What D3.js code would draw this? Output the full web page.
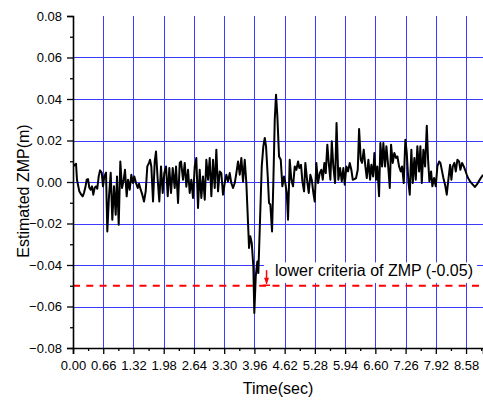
<!DOCTYPE html>
<html>
<head>
<meta charset="utf-8">
<script src="https://cdn.jsdelivr.net/npm/d3@7"></script>
<style>
    body { margin: 0; background: #fff; }
    svg { display: block; font-family: "Liberation Sans", Arial, sans-serif; }
</style>
</head>
<body>
<div id="chart"></div>
<script>
// time (sec) and estimated ZMP (m)
var tempo = [
    0.000, 0.066, 0.087, 0.138, 0.181, 0.212, 0.240, 0.269, 0.299, 0.328,
    0.356, 0.386, 0.415, 0.443, 0.474, 0.502, 0.530, 0.561, 0.590, 0.627,
    0.655, 0.683, 0.721, 0.749, 0.786, 0.823, 0.858, 0.895, 0.932, 0.961,
    0.998, 1.033, 1.070, 1.107, 1.135, 1.172, 1.201, 1.238, 1.273, 1.310,
    1.338, 1.376, 1.413, 1.441, 1.478, 1.513, 1.550, 1.587, 1.622, 1.659,
    1.681, 1.710, 1.747, 1.784, 1.812, 1.849, 1.884, 1.921, 1.958, 1.993,
    2.031, 2.068, 2.103, 2.140, 2.177, 2.220, 2.249, 2.293, 2.330,
    2.358, 2.402, 2.439, 2.474, 2.511, 2.548, 2.583, 2.620, 2.657, 2.692,
    2.729, 2.766, 2.801, 2.838, 2.876, 2.911, 2.948, 2.985, 3.020, 3.057,
    3.094, 3.129, 3.166, 3.203, 3.238, 3.275, 3.312, 3.347, 3.384, 3.421,
    3.456, 3.493, 3.531, 3.566, 3.603, 3.640, 3.675, 3.712, 3.749, 3.784,
    3.821, 3.843, 3.871, 3.902, 3.937, 3.958, 3.989, 4.024, 4.046, 4.083,
    4.120, 4.155, 4.186, 4.214, 4.251, 4.279, 4.308, 4.345, 4.373, 4.404,
    4.432, 4.461, 4.498, 4.535, 4.570, 4.607, 4.635, 4.666, 4.694, 4.731,
    4.766, 4.803, 4.841, 4.876, 4.913, 4.941, 4.978, 5.007, 5.044, 5.072,
    5.109, 5.146, 5.181, 5.212, 5.247, 5.277, 5.312, 5.349, 5.386, 5.421,
    5.452, 5.487, 5.517, 5.552, 5.583, 5.618, 5.649, 5.683, 5.721, 5.753,
    5.793,
    5.830, 5.867, 5.902, 5.932, 5.967, 6.004, 6.041, 6.076, 6.107, 6.142,
    6.179, 6.216, 6.245, 6.282, 6.310, 6.347, 6.382, 6.413, 6.448, 6.485,
    6.513, 6.550, 6.579, 6.616, 6.644, 6.681, 6.710, 6.747, 6.775, 6.812,
    6.841, 6.878, 6.915, 6.943, 6.980, 7.015, 7.052, 7.081, 7.118, 7.155,
    7.183, 7.220, 7.255, 7.286, 7.321, 7.351, 7.386, 7.417, 7.452, 7.483,
    7.517, 7.555, 7.583, 7.614, 7.649, 7.686, 7.723, 7.751, 7.780, 7.817,
    7.845, 7.882, 7.919, 7.954, 7.991, 8.020, 8.057, 8.085, 8.122, 8.159,
    8.194, 8.231, 8.260, 8.290, 8.325, 8.356, 8.391, 8.428, 8.456, 8.493,
    8.530, 8.559, 8.596, 8.624, 8.668, 8.718, 8.771, 8.814, 8.858, 8.901,
    8.952
];

var zmp = [
    0.0075, 0.0088, 0.0011, -0.0045, -0.0061, -0.0069, -0.0052, -0.0027, 0.0011, 0.0014,
    -0.0027, -0.0037, -0.0021, -0.0061, -0.0027, -0.0021, -0.0032, 0.0027, 0.0056, 0.0045,
    -0.0021, 0.0027, 0.0045, -0.0238, -0.0069, 0.0045, -0.0182, -0.0021, -0.0158, 0.0027,
    -0.0206, 0.0099, -0.0029, 0.0011, 0.0059, -0.0069, 0.0011, -0.0037, 0.0035, -0.0005,
    0.0027, -0.0005, -0.0029, -0.0008, -0.0037, -0.0061, -0.0094, -0.0045, 0.0075, 0.0092,
    0.0107, 0.0075, -0.0094, 0.0099, 0.0147, 0.0011, -0.0094, 0.0075, -0.0053, 0.0043,
    0.0075, -0.0069, 0.0067, -0.0053, 0.0067, -0.0029, 0.0075, -0.0101, 0.0092,
    0.0099, 0.0011, 0.0092, -0.0023, 0.0059, -0.0053, 0.0011, -0.0077, 0.0075, 0.0116,
    -0.0125, 0.0059, -0.0077, 0.0027, -0.0085, 0.0107, 0.0011, 0.0116, -0.0069, 0.0107,
    -0.0029, 0.0156, -0.0045, 0.0051, 0.0043, -0.0061, -0.0005, 0.0035, 0.0003, 0.0043,
    -0.0005, -0.0029, -0.0005, 0.0043, 0.0099, 0.0035, 0.0116, 0.0003, 0.0107, -0.0005,
    -0.0198, -0.0318, -0.0262, -0.0294, -0.0407, -0.0631, -0.0455, -0.0383, -0.0439, -0.0182,
    0.0075, 0.0172, 0.0212, 0.0172, 0.0027, -0.0101, -0.0109, -0.0238, -0.0005, 0.0300,
    0.0421, 0.0316, 0.0123, 0.0107, -0.0021, 0.0027, -0.0005, -0.0053, -0.0182, 0.0107,
    0.0011, -0.0021, 0.0075, 0.0059, 0.0099, 0.0067, 0.0083, 0.0003, -0.0045, 0.0092,
    0.0011, -0.0053, 0.0035, 0.0011, -0.0053, -0.0094, 0.0092, -0.0005, 0.0043, 0.0059,
    0.0011, 0.0092, 0.0043, 0.0180, 0.0092, 0.0011, 0.0196, 0.0075, -0.0005, 0.0284,
    0.0011,
    0.0067, 0.0003, 0.0067, -0.0013, 0.0075, 0.0051, 0.0092, 0.0059, 0.0011, 0.0014,
    0.0019, 0.0059, 0.0255, 0.0107, 0.0092, 0.0156, 0.0075, 0.0019, 0.0107, 0.0011,
    0.0083, 0.0027, 0.0140, 0.0011, 0.0075, -0.0069, 0.0188, 0.0075, 0.0188, 0.0075,
    0.0172, 0.0083, -0.0029, 0.0180, 0.0092, 0.0140, 0.0116, 0.0123, 0.0075, 0.0051,
    0.0075, -0.0005, 0.0204, 0.0140, 0.0003, -0.0061, 0.0156, -0.0005, 0.0116, 0.0011,
    0.0172, 0.0051, 0.0172, -0.0005, 0.0156, 0.0075, 0.0271, 0.0107, 0.0003, 0.0051,
    -0.0021, 0.0019, -0.0021, 0.0075, 0.0099, 0.0092, 0.0051, 0.0019, -0.0013, -0.0061,
    0.0011, 0.0083, 0.0011, 0.0075, 0.0092, 0.0051, 0.0107, 0.0099, 0.0059, 0.0092,
    0.0075, 0.0059, 0.0035, 0.0019, 0.0003, -0.0010, -0.0024, -0.0013, 0.0003, 0.0019,
    0.0035
];

// tick values
var xTicks = [0.00, 0.66, 1.32, 1.98, 2.64, 3.30, 3.96, 4.62, 5.28, 5.94, 6.60, 7.26, 7.92, 8.58];
var xMinor = [0.33, 0.99, 1.65, 2.31, 2.97, 3.63, 4.29, 4.95, 5.61, 6.27, 6.93, 7.59, 8.25, 8.91];
var yTicks = [-0.08, -0.06, -0.04, -0.02, 0.00, 0.02, 0.04, 0.06, 0.08];
var yMinor = [-0.07, -0.05, -0.03, -0.01, 0.01, 0.03, 0.05, 0.07];

// criteria line
const limite = -0.05;
const textoLimite = "lower criteria of ZMP (-0.05)";

const width = 483, height = 400;
const margin = { top: 16, left: 73, bottom: 52 };

var svg = d3.select('#chart')
    .append('svg')
    .attr('width', width)
    .attr('height', height);

var x = d3.scaleLinear().domain([0, 8.95]).range([margin.left, width]);
var y = d3.scaleLinear().domain([-0.08, 0.08]).range([height - margin.bottom, margin.top]);

var fmt = d3.format('.2f');

// grid
svg.append('g')
    .selectAll('line')
    .data(xTicks.filter(d => d > 0))
    .join('line')
    .attr('x1', d => Math.round(x(d)) + 0.5)
    .attr('x2', d => Math.round(x(d)) + 0.5)
    .attr('y1', y(0.08))
    .attr('y2', y(-0.08))
    .attr('stroke', '#3b3bff')
    .attr('stroke-width', 1);

svg.append('g')
    .selectAll('line')
    .data(yTicks.filter(d => d > -0.08 && d < 0.08))
    .join('line')
    .attr('x1', x(0))
    .attr('x2', width)
    .attr('y1', d => Math.round(y(d)) + 0.5)
    .attr('y2', d => Math.round(y(d)) + 0.5)
    .attr('stroke', '#3b3bff')
    .attr('stroke-width', 1);

// criteria line (dashed)
svg.append('line')
    .attr('x1', x(0))
    .attr('x2', width)
    .attr('y1', y(limite))
    .attr('y2', y(limite))
    .attr('stroke', '#ff0000')
    .attr('stroke-width', 2)
    .attr('stroke-dasharray', '7,6.3');

// data line
svg.append('clipPath').attr('id', 'clip')
    .append('rect')
    .attr('x', x(0)).attr('y', y(0.08))
    .attr('width', width - x(0)).attr('height', y(-0.08) - y(0.08));

var linha = d3.line()
    .x((d, i) => x(tempo[i]))
    .y(d => y(d));

svg.append('path')
    .datum(zmp)
    .attr('clip-path', 'url(#clip)')
    .attr('fill', 'none')
    .attr('stroke', '#000')
    .attr('stroke-width', 2)
    .attr('stroke-linejoin', 'round')
    .attr('d', linha);

// annotation with white box behind
var anot = svg.append('g');
var caixa = anot.append('rect').attr('fill', '#fff');
var texto = anot.append('text')
    .attr('x', x(4.41))
    .attr('y', y(-0.0455))
    .attr('font-size', 16)
    .attr('fill', '#000')
    .text(textoLimite);
var bb = texto.node().getBBox();
caixa.attr('x', bb.x - 11).attr('y', bb.y)
    .attr('width', bb.width + 15).attr('height', bb.height + 3.5);

// red arrow pointing to the line
var xs = x(4.225);
anot.append('line')
    .attr('x1', xs).attr('x2', xs)
    .attr('y1', y(-0.0425)).attr('y2', y(limite) - 2)
    .attr('stroke', '#ff0000').attr('stroke-width', 1.5);
anot.append('path')
    .attr('d', `M${xs - 2.5},${y(limite) - 8} L${xs + 2.5},${y(limite) - 8} L${xs},${y(limite) - 1.5} Z`)
    .attr('fill', '#ff0000');
anot.append('line')
    .attr('x1', xs - 3.5).attr('x2', xs + 3.5)
    .attr('y1', y(limite) - 0.5).attr('y2', y(limite) - 0.5)
    .attr('stroke', '#ff0000').attr('stroke-width', 1.5);

// axes
var eixoY = svg.append('g')
    .attr('transform', `translate(${x(0)},0)`)
    .call(d3.axisLeft(y).tickValues(yTicks).tickFormat(fmt).tickSize(6).tickPadding(5));
svg.append('g')
    .attr('transform', `translate(${x(0)},0)`)
    .call(d3.axisLeft(y).tickValues(yMinor).tickFormat('').tickSize(3))
    .select('.domain').remove();

var eixoX = svg.append('g')
    .attr('transform', `translate(0,${y(-0.08)})`)
    .call(d3.axisBottom(x).tickValues(xTicks).tickFormat(fmt).tickSize(6).tickPadding(7));
svg.append('g')
    .attr('transform', `translate(0,${y(-0.08)})`)
    .call(d3.axisBottom(x).tickValues(xMinor).tickFormat('').tickSize(3))
    .select('.domain').remove();

svg.selectAll('.domain').attr('stroke-width', 1.6);
svg.selectAll('.tick line').attr('stroke-width', 1.3);

svg.selectAll('.tick text')
    .attr('font-size', 13)
    .attr('font-family', '"Liberation Sans", Arial, sans-serif');

// axis titles
svg.append('text')
    .attr('x', (x(0) + width) / 2)
    .attr('y', 394)
    .attr('text-anchor', 'middle')
    .attr('font-size', 16)
    .text('Time(sec)');

svg.append('text')
    .attr('transform', 'translate(29,191) rotate(-90)')
    .attr('text-anchor', 'middle')
    .attr('font-size', 16)
    .text('Estimated ZMP(m)');
</script>
</body>
</html>
